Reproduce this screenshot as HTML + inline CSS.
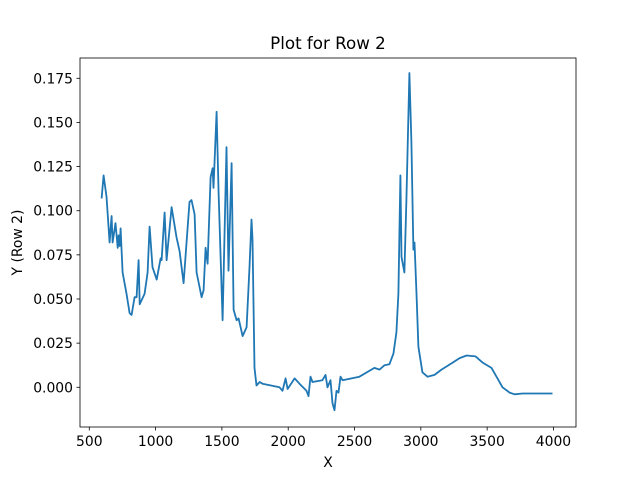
<!DOCTYPE html>
<html><head><meta charset="utf-8"><style>
body{margin:0;background:#fff;}
svg{display:block;font-family:"DejaVu Sans","Liberation Sans",sans-serif;}
</style></head><body>
<svg id="chart" width="640" height="480">
<rect width="640" height="480" fill="#fff"/>
<text x="328" y="49" font-size="16.7" text-anchor="middle">Plot for Row 2</text>
<g id="grid"></g>
<path id="line" fill="none" stroke="#1f77b4" stroke-width="1.8" stroke-linejoin="round"/>
<rect x="80" y="58" width="496" height="369" fill="none" stroke="#000" stroke-width="0.8"/>
<text x="328" y="467" font-size="13.9" text-anchor="middle">X</text>
<text transform="translate(22,242.5) rotate(-90)" font-size="13.9" text-anchor="middle">Y (Row 2)</text>
</svg>
<script>
const xVals=[593,608,630,653,668,676,698,714,721,729,736,751,781,804,819,842,857,872,880,917,940,955,977,1008,1038,1045,1068,1083,1121,1158,1181,1211,1256,1271,1294,1309,1347,1362,1377,1392,1415,1430,1437,1460,1475,1505,1535,1550,1573,1588,1611,1626,1656,1686,1708,1723,1731,1746,1761,1784,1806,1934,1957,1980,1995,2048,2085,2138,2153,2168,2183,2258,2281,2296,2319,2334,2349,2364,2379,2394,2409,2537,2650,2688,2726,2763,2793,2816,2831,2846,2854,2861,2876,2891,2914,2929,2944,2952,2967,2982,3012,3050,3103,3156,3231,3292,3345,3413,3466,3533,3578,3616,3669,3707,3767,3873,3993];
const yVals=[.107,.120,.108,.082,.097,.082,.093,.079,.086,.080,.090,.065,.053,.042,.041,.051,.051,.072,.047,.053,.065,.091,.068,.061,.073,.072,.099,.072,.102,.085,.077,.059,.105,.106,.098,.065,.051,.055,.079,.070,.119,.124,.113,.156,.110,.038,.136,.066,.127,.044,.038,.039,.029,.034,.068,.095,.084,.011,.001,.003,.002,.000,-.002,.005,-.001,.005,.002,-.002,-.005,.006,.003,.004,.007,.000,.004,-.009,-.013,-.002,-.003,.006,.004,.006,.011,.010,.0125,.013,.019,.031,.053,.120,.074,.071,.065,.106,.178,.139,.078,.082,.053,.023,.0085,.006,.007,.010,.0135,.0165,.018,.0175,.014,.011,.005,.000,-.003,-.004,-.0035,-.0035,-.0035];
const xTicks=[500,1000,1500,2000,2500,3000,3500,4000];
const yTicks=[0,0.025,0.05,0.075,0.1,0.125,0.15,0.175];
const yTickLabels=["0.000","0.025","0.050","0.075","0.100","0.125","0.150","0.175"];
const L=80,R=576,T=58,B=427,x0=430,x1=4170,y0=-0.0225,y1=0.1865;
const sx=v=>L+(v-x0)/(x1-x0)*(R-L);
const sy=v=>B-(v-y0)/(y1-y0)*(B-T);
const NS="http://www.w3.org/2000/svg";
const g=document.getElementById('grid');
xTicks.forEach(t=>{
  const l=document.createElementNS(NS,'line');
  l.setAttribute('x1',sx(t));l.setAttribute('x2',sx(t));l.setAttribute('y1',B);l.setAttribute('y2',B+3.5);l.setAttribute('stroke','#000');l.setAttribute('stroke-width','0.8');
  
  
  g.appendChild(l);
  const tx=document.createElementNS(NS,'text');
  tx.setAttribute('x',sx(t));tx.setAttribute('y',B+19);tx.setAttribute('font-size','13.9');tx.setAttribute('text-anchor','middle');tx.textContent=t;
  
  
  g.appendChild(tx);
});
yTicks.forEach((t,i)=>{
  const l=document.createElementNS(NS,'line');
  l.setAttribute('x1',L-3.5);l.setAttribute('x2',L);l.setAttribute('y1',sy(t));l.setAttribute('y2',sy(t));l.setAttribute('stroke','#000');l.setAttribute('stroke-width','0.8');
  
  
  g.appendChild(l);
  const tx=document.createElementNS(NS,'text');
  tx.setAttribute('x',L-7);tx.setAttribute('y',sy(t)+5);tx.setAttribute('font-size','13.9');tx.setAttribute('text-anchor','end');tx.textContent=yTickLabels[i];
  
  
  g.appendChild(tx);
});
document.getElementById('line').setAttribute('d',xVals.map((x,i)=>(i?'L':'M')+sx(x).toFixed(1)+','+sy(yVals[i]).toFixed(1)).join(''));
</script>
</body></html>
